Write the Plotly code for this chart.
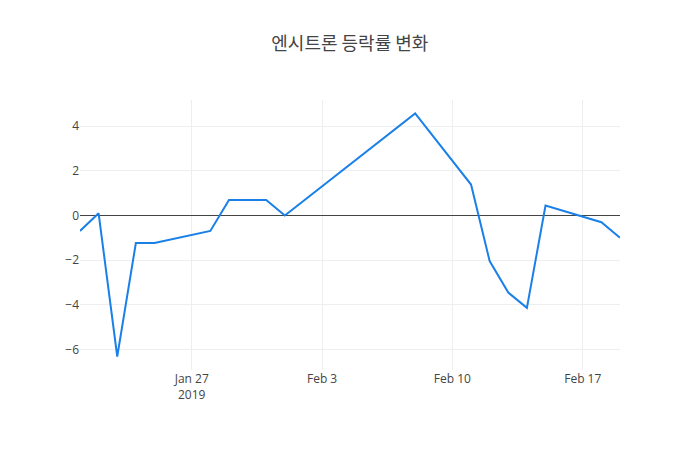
import plotly.graph_objects as go

# 엔시트론 daily change rate (%)
dates = [
    "2019-01-21", "2019-01-22", "2019-01-23", "2019-01-24", "2019-01-25",
    "2019-01-28", "2019-01-29", "2019-01-31", "2019-02-01", "2019-02-08",
    "2019-02-11", "2019-02-12", "2019-02-13", "2019-02-14", "2019-02-15",
    "2019-02-18", "2019-02-19",
]
change_rate = [
    -0.69, 0.10, -6.31, -1.23, -1.23,
    -0.69, 0.70, 0.70, 0.0, 4.57,
    1.39, -2.04, -3.45, -4.13, 0.45,
    -0.30, -0.99,
]

fig = go.Figure()

fig.add_trace(go.Scatter(
    x=dates,
    y=change_rate,
    mode="lines",
    line=dict(color="#1a80e8", width=2),
))

# page has an 8px body margin, so size/margins are trimmed to line up
fig.update_layout(
    template="none",
    title=dict(
        text="엔시트론 등락률 변화",
        x=0.494,
        xanchor="center",
        y=0.92,
        yanchor="middle",
        font=dict(family="Noto Sans CJK KR", size=18, color="#444"),
    ),
    width=692,
    height=442,
    margin=dict(l=72, r=80, t=92, b=80),
    font=dict(family="Open Sans", size=12, color="#444"),
    xaxis=dict(
        showgrid=True,
        gridcolor="#eee",
        zeroline=False,
        showline=False,
        ticks="",
    ),
    yaxis=dict(
        showgrid=True,
        gridcolor="#eee",
        zeroline=True,
        zerolinecolor="#444",
        zerolinewidth=1,
        showline=False,
        ticks="",
        dtick=2,
    ),
    plot_bgcolor="white",
    paper_bgcolor="white",
    showlegend=False,
)

fig.write_html("out.html")
